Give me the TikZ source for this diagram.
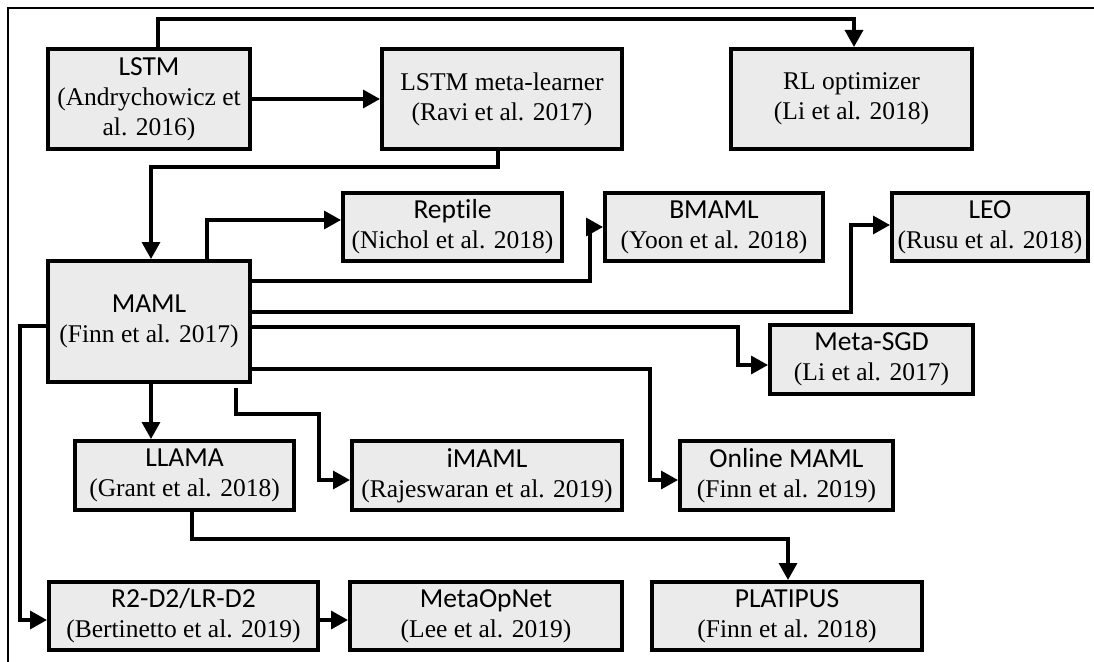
\documentclass[tikz,border=0pt]{standalone}
\usepackage{fontspec}
\setmainfont{Liberation Serif}
\newfontfamily\calib[Ligatures=NoCommon]{Carlito}
\usetikzlibrary{arrows.meta,calc}
\definecolor{boxfill}{HTML}{EBEBEB}
\tikzset{
  box/.style={draw=black, line width=4pt, fill=boxfill, align=center, inner sep=2pt,
    font=\fontsize{25.5}{30}\selectfont},
  conn/.style={line width=3.3pt, -{Triangle[length=17pt,width=18pt]}},
  frame/.style={line width=2.4pt}
}
\newcommand{\sn}[1]{{\calib\fontsize{27.5}{30}\selectfont #1}}
\begin{document}
\begin{tikzpicture}[x=1pt,y=-1pt]
\useasboundingbox (0,0) rectangle (1094,661);
\draw[frame] (8,700) -- (8,8) -- (1120,8);

% boxes
\node[box, minimum width=202pt, minimum height=100pt] (lstm) at (149,99) {\sn{LSTM}\\(Andrychowicz et\\al. 2016)};
\node[box, minimum width=240pt, minimum height=100pt] (meta) at (502,99) {LSTM meta-learner\\(Ravi et al. 2017)};
\node[box, minimum width=241pt, minimum height=100pt] (rl) at (851.5,99) {RL optimizer\\(Li et al. 2018)};

\node[box, minimum width=219pt, minimum height=68pt] (reptile) at (452.5,227) {\sn{Reptile}\\(Nichol et al. 2018)};
\node[box, minimum width=218pt, minimum height=68pt] (bmaml) at (714,227) {\sn{BMAML}\\(Yoon et al. 2018)};
\node[box, minimum width=196pt, minimum height=68pt] (leo) at (990,227) {\sn{LEO}\\(Rusu et al. 2018)};

\node[box, minimum width=202pt, minimum height=121pt] (maml) at (149,321.5) {\sn{MAML}\\(Finn et al. 2017)};
\node[box, minimum width=203pt, minimum height=69pt] (sgd) at (871.5,359.5) {\sn{Meta-SGD}\\(Li et al. 2017)};

\node[box, minimum width=219pt, minimum height=69pt] (llama) at (184.5,475.5) {\sn{LLAMA}\\(Grant et al. 2018)};
\node[box, minimum width=270pt, minimum height=69pt] (imaml) at (487,475.5) {\sn{iMAML}\\(Rajeswaran et al. 2019)};
\node[box, minimum width=213pt, minimum height=69pt] (online) at (786.5,475.5) {\sn{Online MAML}\\(Finn et al. 2019)};

\node[box, minimum width=269pt, minimum height=68pt] (r2d2) at (183.5,616) {\sn{R2-D2/LR-D2}\\(Bertinetto et al. 2019)};
\node[box, minimum width=272pt, minimum height=68pt] (metaopt) at (486,616) {\sn{MetaOpNet}\\(Lee et al. 2019)};
\node[box, minimum width=270pt, minimum height=68pt] (platipus) at (787,616) {\sn{PLATIPUS}\\(Finn et al. 2018)};

% connectors
\draw[conn] ([xshift=9pt]lstm.north) -- ++(0,-28) -| ([xshift=2.5pt]rl.north);
\draw[conn] (lstm.east) -- (meta.west);
\draw[conn] ([xshift=-4pt]meta.south) -- ++(0,16) -| ([xshift=2pt]maml.north);
\draw[conn] ([xshift=58pt]maml.north) |- ([yshift=7pt]reptile.west);
\draw[conn] ([yshift=40.5pt]maml.east) -| ($(bmaml.west)+(-13,0)$) -- (bmaml.west);
\draw[conn] ([yshift=9.5pt]maml.east) -| ($([yshift=2pt]leo.west)+(-39,0)$) -- ([yshift=2pt]leo.west);
\draw[conn] ([yshift=-5.5pt]maml.east) -| ($([yshift=-5.5pt]sgd.west)+(-30,0)$) -- ([yshift=-5.5pt]sgd.west);
\draw[conn] ([yshift=-47.5pt]maml.east) -| ($([yshift=-4.5pt]online.west)+(-28,0)$) -- ([yshift=-4.5pt]online.west);
\draw[conn] ([xshift=2pt]maml.south) -- ([xshift=2pt]maml.south |- llama.north);
\draw[conn] ([xshift=87pt,yshift=-4pt]maml.south) -- ++(0,26) -| ($([yshift=-4.5pt]imaml.west)+(-31,0)$) -- ([yshift=-4.5pt]imaml.west);
\draw[conn] ([yshift=-4.5pt]maml.west) -| ($([yshift=-4pt]r2d2.west)+(-27,0)$) -- ([yshift=-4pt]r2d2.west);
\draw[conn] ([yshift=-4pt]r2d2.east) -- ([yshift=-4pt]metaopt.west);
\draw[conn] ([xshift=7.5pt]llama.south) -- ++(0,27) -| ([xshift=1pt]platipus.north);
\end{tikzpicture}
\end{document}
